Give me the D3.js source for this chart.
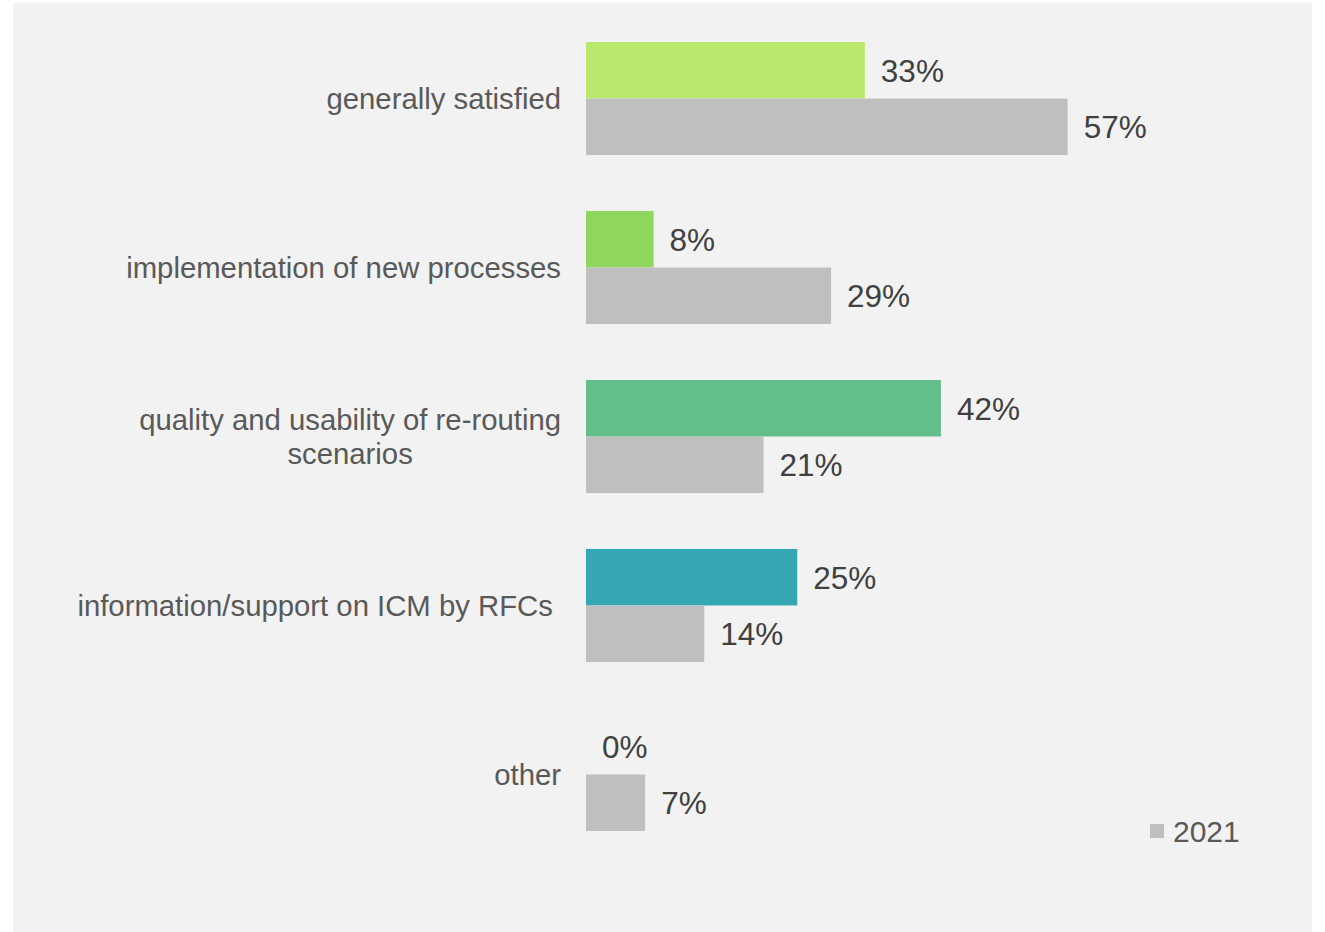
<!DOCTYPE html>
<html>
<head>
<meta charset="utf-8">
<script src="https://cdn.jsdelivr.net/npm/d3@7"></script>
<style>
  html, body { margin: 0; padding: 0; background: #ffffff; }
  svg { display: block; }
  text { font-family: "Liberation Sans", Arial, sans-serif; }
</style>
</head>
<body>
<svg id="chart" width="1325" height="932"></svg>
<script>
// Survey answers: satisfaction with ICM, by topic
const categories = [
  ["generally satisfied"],
  ["implementation of new processes"],
  ["quality and usability of re-routing", "scenarios"],
  ["information/support on ICM by RFCs "],
  ["other"]
];
const seriesNames = ["2022", "2021"];
const currentValues = [33, 8, 42, 25, 0];
const previousValues = [57, 29, 21, 14, 7];
const currentColors = ["#b9e86c", "#8fd65e", "#62bf8a", "#35a7b2", "#35a7b2"];
const previousColor = "#bfbfbf";
const legendLabels = ["2021"];

const svg = d3.select("#chart");

// panel background
svg.append("rect")
  .attr("x", 13).attr("y", 3)
  .attr("width", 1299).attr("height", 929)
  .attr("fill", "#f2f2f2");

const keys = categories.map((c, i) => i);
const y = d3.scaleBand().domain(keys).range([42, 831]).paddingInner(0.331).paddingOuter(0);
const ySub = d3.scaleBand().domain(seriesNames).range([0, y.bandwidth()]);
const x = d3.scaleLinear().domain([0, 100]).range([586, 1431]);

const rows = keys.map(i => ({
  i,
  label: categories[i],
  values: [
    { series: seriesNames[0], value: currentValues[i], color: currentColors[i] },
    { series: seriesNames[1], value: previousValues[i], color: previousColor }
  ]
}));

const g = svg.selectAll("g.row").data(rows).join("g")
  .attr("class", "row")
  .attr("transform", d => `translate(0,${y(d.i)})`);

g.selectAll("rect.bar").data(d => d.values).join("rect")
  .attr("class", "bar")
  .attr("x", x(0))
  .attr("y", d => ySub(d.series))
  .attr("width", d => x(d.value) - x(0))
  .attr("height", ySub.bandwidth())
  .attr("fill", d => d.color);

g.selectAll("text.val").data(d => d.values).join("text")
  .attr("class", "val")
  .attr("x", d => x(d.value) + 16)
  .attr("y", d => ySub(d.series) + ySub.bandwidth() / 2)
  .attr("dy", "0.36em")
  .attr("font-size", 31.5)
  .attr("fill", "#404040")
  .text(d => d.value + "%");

// category labels: lines centred on each other, block right-aligned to the axis
g.each(function(d) {
  const lines = d.label;
  const lh = 34;
  const t = d3.select(this).append("text")
    .attr("font-size", 29.3)
    .attr("fill", "#595959")
    .style("white-space", "pre");
  const cy = y.bandwidth() / 2 - (lines.length - 1) * lh / 2;
  lines.forEach((ln, k) => {
    t.append("tspan").attr("y", cy + k * lh).attr("dy", "0.36em").text(ln);
  });
  // measure and position
  const spans = t.selectAll("tspan").nodes();
  const widths = spans.map(s => s.getComputedTextLength());
  const maxW = d3.max(widths);
  const right = 561;
  spans.forEach((s, k) => {
    d3.select(s).attr("x", right - maxW / 2).attr("text-anchor", "middle");
  });
  if (lines.length === 1) {
    d3.select(spans[0]).attr("x", right).attr("text-anchor", "end");
  }
});

// legend
const lg = svg.append("g").attr("transform", "translate(1150,824)");
lg.append("rect").attr("width", 14).attr("height", 14).attr("fill", previousColor);
lg.append("text")
  .attr("x", 23).attr("y", 7).attr("dy", "0.36em")
  .attr("font-size", 30)
  .attr("fill", "#595959")
  .text(legendLabels[0]);
</script>
</body>
</html>
